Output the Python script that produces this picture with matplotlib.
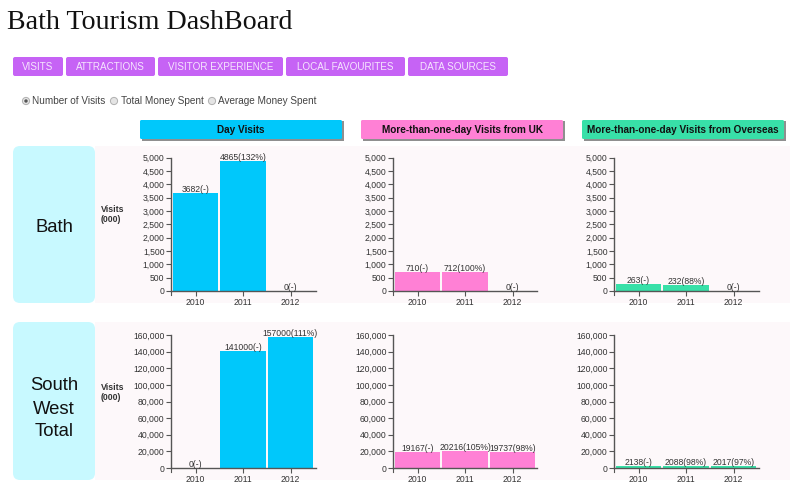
import matplotlib
matplotlib.use('Agg')
import matplotlib.pyplot as plt
from matplotlib import font_manager
from matplotlib.patches import FancyBboxPatch, Rectangle, Circle
from matplotlib.ticker import FuncFormatter

W, H = 800, 495

years = ["2010", "2011", "2012"]

bath_day = [3682, 4865, 0]
bath_uk = [710, 712, 0]
bath_overseas = [263, 232, 0]
sw_day = [0, 141000, 157000]
sw_uk = [19167, 20216, 19737]
sw_overseas = [2138, 2088, 2017]

bath_day_labels = ["3682(-)", "4865(132%)", "0(-)"]
bath_uk_labels = ["710(-)", "712(100%)", "0(-)"]
bath_overseas_labels = ["263(-)", "232(88%)", "0(-)"]
sw_day_labels = ["0(-)", "141000(-)", "157000(111%)"]
sw_uk_labels = ["19167(-)", "20216(105%)", "19737(98%)"]
sw_overseas_labels = ["2138(-)", "2088(98%)", "2017(97%)"]

bath_ticks = [0, 500, 1000, 1500, 2000, 2500, 3000, 3500, 4000, 4500, 5000]
sw_ticks = [0, 20000, 40000, 60000, 80000, 100000, 120000, 140000, 160000]

nav_items = ["VISITS", "ATTRACTIONS", "VISITOR EXPERIENCE", "LOCAL FAVOURITES", "DATA SOURCES"]
nav_spans = [(13, 63), (66, 155), (158, 283), (286, 405), (408, 508)]
radio_items = ["Number of Visits", "Total Money Spent", "Average Money Spent"]

BLUE = "#00c8fb"
PINK = "#ff80d5"
GREEN = "#38e0a8"
PURPLE = "#c663f5"
AXIS = "#555555"
TEXT = "#333333"

SANS = "Liberation Sans"
# chart numbers in the reference are squeezed, the narrow cut is the closest if it exists
installed = {f.name for f in font_manager.fontManager.ttflist}
CHART_FONT = "Liberation Sans Narrow" if "Liberation Sans Narrow" in installed else SANS
CHART_SIZE = 10.6 if CHART_FONT != SANS else 8.6


def px(size):
    return size * 0.72


plt.rcParams["font.family"] = SANS

fig = plt.figure(figsize=(W / 100, H / 100), dpi=100, facecolor="white")

# full page layer in pixel coordinates, y going down like the web page
bg = fig.add_axes([0, 0, 1, 1])
bg.set_xlim(0, W)
bg.set_ylim(H, 0)
bg.axis("off")


def rounded(x0, y0, x1, y1, color, r=3, zorder=1):
    bg.add_patch(FancyBboxPatch((x0 + r, y0 + r), x1 - x0 - 2 * r, y1 - y0 - 2 * r,
                                boxstyle=f"round,pad={r},rounding_size={r}",
                                fc=color, ec="none", zorder=zorder))


def header(x0, x1, label, color):
    bg.add_patch(Rectangle((x0 + 1.5, 121), x1 - x0, 19.5, fc="#8f8f8f", ec="none", zorder=1))
    rounded(x0, 120, x1, 139, color, r=1.5, zorder=2)
    bg.text((x0 + x1) / 2, 130, label, ha="center", va="center", fontsize=px(10.0),
            fontweight="bold", color="#111111", zorder=3)


bg.text(7, 29, "Bath Tourism DashBoard", family="Liberation Serif", fontsize=px(28),
        color="#111111", va="baseline")

for item, (x0, x1) in zip(nav_items, nav_spans):
    rounded(x0, 57, x1, 76, PURPLE, r=2)
    bg.text((x0 + x1) / 2, 66.8, item, ha="center", va="center", fontsize=px(9.9), color="#f6e6fe", zorder=3)

for item, cx, tx in zip(radio_items, [26, 114, 212], [32, 121, 218]):
    bg.add_patch(Circle((cx, 101), 3.6, fc="#e4e4e4", ec="#b0b0b0", lw=0.7))
    bg.text(tx, 101, item, va="center", fontsize=px(10.0), color="#444444")
bg.add_patch(Circle((26, 101), 1.7, fc="#555555", ec="none", zorder=3))

header(140, 342, "Day Visits", BLUE)
header(361, 563, "More-than-one-day Visits from UK", PINK)
header(582, 784, "More-than-one-day Visits from Overseas", GREEN)

for y0, y1 in [(146, 303), (322, 480)]:
    bg.add_patch(Rectangle((95, y0), 695, y1 - y0, fc="#fdf8fa", ec="none", zorder=0))
    rounded(13, y0, 95, y1, "#c8f9ff", r=7)

bg.text(54, 227, "Bath", ha="center", va="center", fontsize=px(18.5), color="#111111")
for word, y in zip(["South", "West", "Total"], [386, 409, 431]):
    bg.text(54, y, word, ha="center", va="center", fontsize=px(18.5), color="#111111")

for y in [210, 387]:
    bg.text(101, y, "Visits", va="center", fontsize=px(8.8), fontweight="bold", color="#333333")
    bg.text(101, y + 10, "(000)", va="center", fontsize=px(8.8), fontweight="bold", color="#333333")


def bar_panel(left, right, base, top, values, labels, ticks, color):
    ax = fig.add_axes([left / W, 1 - base / H, (right - left) / W, (base - top) / H])
    ax.patch.set_alpha(0)
    # band scale: first bar centre sits 24.5 px from the axis start
    step = 47.5
    ax.set_xlim(-24.5 / step, -24.5 / step + (right - left) / step)
    ax.set_ylim(0, ticks[-1])
    pos = range(len(values))
    ax.bar(pos, values, width=0.95, color=color, zorder=2)
    for i, (v, lab) in enumerate(zip(values, labels)):
        ax.annotate(lab, (i, v), xytext=(0, 1), textcoords="offset pixels", ha="center",
                    va="baseline", family=CHART_FONT, fontsize=px(CHART_SIZE), color=TEXT,
                    zorder=4, annotation_clip=False)
    ax.set_xticks(list(pos))
    ax.set_xticklabels(years, family=CHART_FONT)
    ax.set_yticks(ticks)
    ax.yaxis.set_major_formatter(FuncFormatter(lambda v, _: f"{int(v):,}"))
    ax.tick_params(axis="both", length=3.6, width=0.8, color=AXIS, labelsize=px(CHART_SIZE),
                   labelcolor=TEXT, pad=1.5)
    ax.tick_params(axis="y", pad=1)
    for lab in ax.get_yticklabels():
        lab.set_family(CHART_FONT)
    ax.plot([0, 0], [0, -0.03], transform=ax.transAxes, color=AXIS, lw=0.8, clip_on=False)
    for side in ["top", "right"]:
        ax.spines[side].set_visible(False)
    for side in ["left", "bottom"]:
        ax.spines[side].set_color(AXIS)
        ax.spines[side].set_linewidth(1.0)
    return ax


bar_panel(171, 316, 291, 157.7, bath_day, bath_day_labels, bath_ticks, BLUE)
bar_panel(393, 537, 291, 157.7, bath_uk, bath_uk_labels, bath_ticks, PINK)
bar_panel(614, 759, 291, 157.7, bath_overseas, bath_overseas_labels, bath_ticks, GREEN)
bar_panel(171, 316, 468, 335, sw_day, sw_day_labels, sw_ticks, BLUE)
bar_panel(393, 537, 468, 335, sw_uk, sw_uk_labels, sw_ticks, PINK)
bar_panel(614, 759, 468, 335, sw_overseas, sw_overseas_labels, sw_ticks, GREEN)

fig.savefig("out.png", dpi=100)
